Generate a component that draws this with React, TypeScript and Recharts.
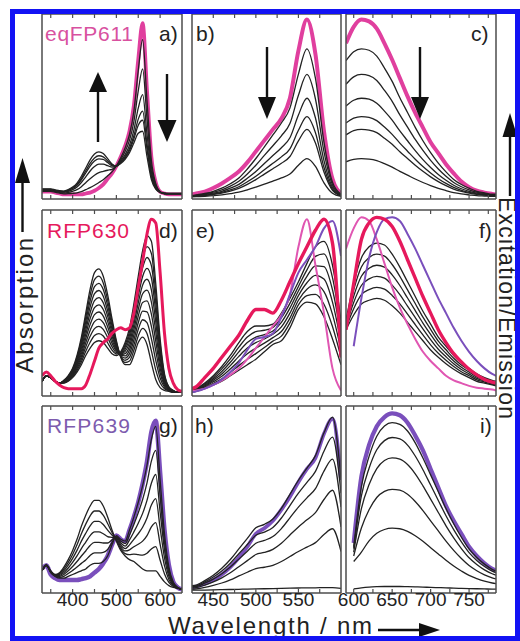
import React from 'react';
import { LineChart, Line, XAxis, YAxis } from 'recharts';

const FONT = '"Liberation Sans", Arial, Helvetica, sans-serif';
const PINK = '#e03f9e';
const PINK_THIN = '#e056b2';
const CRIMSON = '#e6195c';
const VIOLET = '#7a4fbc';
const INK = '#222222';
const FRAME = '#4d4d4d';

// wavelength grids (nm)
const absWl = [330, 340, 350, 360, 370, 380, 390, 400, 410, 420, 430, 440, 450, 460, 470, 480, 490, 500, 510, 520, 530, 540, 550, 560, 570, 580, 590, 600, 610, 620, 630, 640, 650];
const excWl = [425, 430, 440, 450, 460, 470, 480, 490, 500, 510, 520, 530, 540, 550, 560, 570, 580, 590, 600];
const emWl = [590, 600, 610, 620, 630, 640, 650, 660, 670, 680, 690, 700, 710, 720, 730, 740, 750, 760, 770, 780, 785];

const absTicks = [350, 400, 450, 500, 550, 600];
const excTicks = [450, 475, 500, 525, 550, 575];
const emTicks = [600, 625, 650, 675, 700, 725, 750, 775];
const absLabels = [400, 500, 600];
const excLabels = [450, 500, 550];
const emLabels = [600, 650, 700, 750];

// a) eqFP611 absorption
const eqAbs = [3, 3, 3, 2.5, 2, 1.5, 1.5, 1.5, 1.5, 1.5, 2, 2.5, 3.5, 5, 7, 10, 13, 17, 22, 28, 36, 50, 75, 95, 58, 22, 8, 3, 2, 1.5, 1.5, 1.5, 1.5];
const eqAbsSteps = [
  [3.2, 3.2, 3.2, 2.7, 2.2, 1.8, 1.9, 2.1, 2.4, 3.0, 4.1, 5.2, 6.5, 8.0, 9.5, 11.7, 13.8, 17, 21.5, 26.9, 34.2, 46.9, 69, 86, 52.6, 20.1, 7.5, 3, 2, 1.8, 1.8, 1.8, 1.8],
  [3.6, 3.6, 3.6, 3.1, 2.6, 2.3, 2.6, 3.2, 4.1, 5.7, 7.9, 10.1, 12.0, 13.4, 14.1, 14.7, 15.2, 17, 20.5, 24.9, 31.0, 41.3, 58, 70, 42.8, 16.7, 6.5, 2.8, 2, 1.8, 1.8, 1.8, 1.8],
  [4.0, 4.0, 4.0, 3.5, 3.0, 2.7, 3.2, 4.1, 5.6, 8.0, 11.1, 14.3, 16.7, 18.0, 18.0, 17.2, 16.4, 17, 19.6, 23.2, 28.3, 36.6, 48.6, 56, 34.5, 13.8, 5.6, 2.8, 2, 1.9, 1.9, 1.9, 1.9],
  [4.2, 4.2, 4.2, 3.7, 3.2, 3.0, 3.6, 4.7, 6.5, 9.5, 13.2, 17.0, 19.7, 20.9, 20.6, 18.9, 17.1, 17, 19.1, 22.1, 26.6, 33.5, 42.6, 47, 29.1, 12.0, 5.1, 2.7, 2, 1.9, 1.9, 1.9, 1.9],
  [4.3, 4.3, 4.3, 3.8, 3.3, 3.1, 3.8, 5.1, 7.0, 10.3, 14.4, 18.4, 21.4, 22.6, 22.0, 19.8, 17.6, 17, 18.8, 21.5, 25.6, 31.8, 39.3, 42, 26.2, 11.0, 4.8, 2.7, 2, 2, 2, 2, 2],
  [4.5, 4.5, 4.5, 4.0, 3.5, 3.3, 4.1, 5.5, 7.7, 11.4, 15.9, 20.4, 23.6, 24.7, 23.8, 21.0, 18.1, 17, 18.4, 20.7, 24.3, 29.6, 34.9, 36, 22.2, 9.6, 4.4, 2.6, 2, 2, 2, 2, 2],
];

// b) eqFP611 excitation
const eqExc = [1.5, 2, 3, 5, 7.5, 10.5, 14, 19, 25, 31, 37, 43, 54, 80, 97, 78, 36, 10, 2];
const eqExcSteps = [
  [0.8, 1.2, 2, 3.2, 4.9, 7.3, 10.5, 15.4, 21.1, 27.5, 34, 40.5, 48.6, 67.2, 81, 64.8, 30, 8.1, 1.6],
  [0.7, 1, 1.7, 2.7, 4, 6, 8.7, 12.7, 17.4, 22.8, 28.1, 33.5, 40.2, 55.6, 67, 53.6, 24.8, 6.7, 1.3],
  [0.5, 0.8, 1.4, 2.2, 3.2, 4.9, 7, 10.3, 14, 18.4, 22.7, 27, 32.4, 44.8, 54, 43.2, 20, 5.4, 1.1],
  [0.4, 0.7, 1.1, 1.8, 2.6, 4, 5.7, 8.4, 11.4, 15, 18.5, 22, 26.4, 36.5, 44, 35.2, 16.3, 4.4, 0.9],
  [0.4, 0.6, 0.9, 1.5, 2.2, 3.3, 4.8, 7, 9.6, 12.6, 15.5, 18.5, 22.2, 30.7, 37, 29.6, 13.7, 3.7, 0.7],
  [0.2, 0.3, 0.5, 0.8, 1.3, 1.9, 2.7, 4, 5.5, 7.1, 8.8, 10.5, 12.6, 17.4, 21, 16.8, 7.8, 2.1, 0.4],
];

// c) eqFP611 emission
const eqEm = [84, 93, 97, 96, 92, 84, 75, 65, 55, 46, 38, 30, 24, 18, 13, 8.5, 5.5, 3.5, 2.5, 1.8, 1.5];
const eqEmSteps = [
  [74.5, 79.4, 81, 80.2, 77, 70.5, 63.2, 54.3, 46.2, 38.1, 30.8, 24.3, 18.6, 13.8, 9.7, 6.9, 4.9, 3.2, 2.4, 1.6, 1.6],
  [61.6, 65.7, 67, 66.3, 63.7, 58.3, 52.3, 44.9, 38.2, 31.5, 25.5, 20.1, 15.4, 11.4, 8, 5.7, 4, 2.7, 2, 1.3, 1.3],
  [49.7, 52.9, 54, 53.5, 51.3, 47, 42.1, 36.2, 30.8, 25.4, 20.5, 16.2, 12.4, 9.2, 6.5, 4.6, 3.2, 2.2, 1.6, 1.1, 1.1],
  [40.5, 43.1, 44, 43.6, 41.8, 38.3, 34.3, 29.5, 25.1, 20.7, 16.7, 13.2, 10.1, 7.5, 5.3, 3.7, 2.6, 1.8, 1.3, 0.9, 0.9],
  [34, 36.3, 37, 36.6, 35.2, 32.2, 28.9, 24.8, 21.1, 17.4, 14.1, 11.1, 8.5, 6.3, 4.4, 3.1, 2.2, 1.5, 1.1, 0.7, 0.7],
  [19.3, 20.6, 21, 20.8, 20, 18.3, 16.4, 14.1, 12, 9.9, 8, 6.3, 4.8, 3.6, 2.5, 1.8, 1.3, 0.8, 0.6, 0.4, 0.4],
];

// d) RFP630 absorption
const rfp630Abs = [10, 12, 10, 7, 5, 3.5, 3, 3, 3, 3, 5, 11, 18, 25, 28, 30, 33, 35, 36, 35, 36, 44, 58, 72, 87, 95, 93, 66, 33, 14, 6, 2.5, 1.5];
const rfp630AbsSteps = [
  [7, 10, 9, 7, 6, 7.5, 10, 14, 21, 31, 44, 57, 66, 68, 64, 54, 41, 29, 20, 16, 16, 21, 28, 31, 27, 17, 8, 3.5, 2, 1.5, 1, 1, 1],
  [7, 10, 9, 7, 6, 7.4, 9.7, 13.5, 20.1, 29.5, 41.7, 53.8, 62.2, 64.1, 60.4, 51.1, 39.1, 28.2, 20.3, 17.2, 18, 23.8, 31.6, 35.7, 32.9, 23.6, 13.2, 6.2, 2.9, 1.8, 1.1, 1, 1],
  [7, 10, 9, 7, 6, 7.2, 9.4, 13, 19.2, 28, 39.4, 50.6, 58.4, 60.2, 56.8, 48.2, 37.2, 27.4, 20.6, 18.4, 20, 26.6, 35.2, 40.4, 38.8, 30.2, 18.4, 8.8, 3.8, 2, 1.2, 1, 1],
  [7, 10, 9, 7, 6, 7.1, 9.1, 12.5, 18.3, 26.5, 37.1, 47.4, 54.6, 56.3, 53.2, 45.3, 35.3, 26.6, 20.9, 19.6, 22, 29.4, 38.8, 45.1, 44.7, 36.8, 23.6, 11.5, 4.7, 2.3, 1.3, 1, 1],
  [7, 10, 9, 7, 6, 6.9, 8.8, 12, 17.4, 25, 34.8, 44.2, 50.8, 52.4, 49.6, 42.4, 33.4, 25.8, 21.2, 20.8, 24, 32.2, 42.4, 49.8, 50.6, 43.4, 28.8, 14.1, 5.6, 2.5, 1.4, 1, 1],
  [7, 10, 9, 7, 6, 6.8, 8.5, 11.5, 16.5, 23.5, 32.5, 41, 47, 48.5, 46, 39.5, 31.5, 25, 21.5, 22, 26, 35, 46, 54.5, 56.5, 50, 34, 16.8, 6.5, 2.8, 1.5, 1, 1],
  [7, 10, 9, 7, 6, 6.6, 8.2, 11, 15.6, 22, 30.2, 37.8, 43.2, 44.6, 42.4, 36.6, 29.6, 24.2, 21.8, 23.2, 28, 37.8, 49.6, 59.2, 62.4, 56.6, 39.2, 19.4, 7.4, 3, 1.6, 1, 1],
  [7, 10, 9, 7, 6, 6.5, 7.9, 10.5, 14.7, 20.5, 27.9, 34.6, 39.4, 40.7, 38.8, 33.7, 27.7, 23.4, 22.1, 24.4, 30, 40.6, 53.2, 63.9, 68.3, 63.2, 44.4, 22.1, 8.3, 3.3, 1.7, 1, 1],
  [7, 10, 9, 7, 6, 6.3, 7.6, 10, 13.8, 19, 25.6, 31.4, 35.6, 36.8, 35.2, 30.8, 25.8, 22.6, 22.4, 25.6, 32, 43.4, 56.8, 68.6, 74.2, 69.8, 49.6, 24.7, 9.2, 3.5, 1.8, 1, 1],
  [7, 10, 9, 7, 6, 6.2, 7.3, 9.5, 12.9, 17.5, 23.3, 28.2, 31.8, 32.9, 31.6, 27.9, 23.9, 21.8, 22.7, 26.8, 34, 46.2, 60.4, 73.3, 80.1, 76.4, 54.8, 27.4, 10.1, 3.8, 1.9, 1, 1],
  [7, 10, 9, 7, 6, 6, 7, 9, 12, 16, 21, 25, 28, 29, 28, 25, 22, 21, 23, 28, 36, 49, 64, 78, 86, 83, 60, 30, 11, 4, 2, 1, 1],
];

// e) RFP630 excitation (with eqFP611 and RFP639 references)
const rfp630Exc = [3, 4, 9, 14, 20, 26, 32, 40, 46, 46, 44, 51, 61, 71, 80, 89, 95, 82, 20];
const eqExcRef = [1.5, 2, 3, 5, 7.5, 10.5, 14, 19, 25, 31, 37, 43, 54, 80, 95, 70, 44, 14, 2];
const rfp639ExcRef = [1, 1.5, 3, 5, 8, 12, 17, 24, 30, 31, 33, 42, 54, 66, 73, 80, 90, 94, 75];
const rfp630ExcSteps = [
  [1, 1.5, 3, 5, 7, 10, 13, 16, 19, 23, 27, 29, 36, 46, 50, 49, 42, 30, 16],
  [1.2, 1.8, 3.5, 5.8, 8.3, 11.8, 15.5, 19, 22, 25.3, 28.8, 31.5, 38.7, 48.5, 53.5, 54.2, 48.8, 36.7, 20],
  [1.3, 2, 4, 6.7, 9.7, 13.7, 18, 22, 25, 27.7, 30.7, 34, 41.3, 51, 57, 59.3, 55.7, 43.3, 24],
  [1.5, 2.3, 4.5, 7.5, 11, 15.5, 20.5, 25, 28, 30, 32.5, 36.5, 44, 53.5, 60.5, 64.5, 62.5, 50, 28],
  [1.7, 2.5, 5, 8.3, 12.3, 17.3, 23, 28, 31, 32.3, 34.3, 39, 46.7, 56, 64, 69.7, 69.3, 56.7, 32],
  [1.8, 2.8, 5.5, 9.2, 13.7, 19.2, 25.5, 31, 34, 34.7, 36.2, 41.5, 49.3, 58.5, 67.5, 74.8, 76.2, 63.3, 36],
  [2, 3, 6, 10, 15, 21, 28, 34, 37, 37, 38, 44, 52, 61, 71, 80, 83, 70, 40],
];

// f) RFP630 emission (with eqFP611 and RFP639 references)
const rfp630Em = [35, 60, 84, 93, 96, 95, 91, 83, 73, 63, 53, 44, 35, 28, 22, 17.5, 13.5, 10.5, 8, 6.5, 6];
const eqEmRef = [79, 90, 96, 94, 84, 71, 58, 47, 38, 30, 23, 18, 14, 10, 7.5, 6, 4.5, 3.5, 3, 2.5, 2];
const rfp639EmRef = [null, 26, 52, 74, 88, 95, 96, 94, 87, 79, 70, 61, 52, 44, 36, 29, 23, 18, 14, 11, 10];
const rfp630EmSteps = [
  [35, 43, 49, 51, 52, 51, 48, 44, 39, 34, 29, 24, 20, 16.5, 13.5, 11, 9, 7, 6, 5, 4.5],
  [36, 46.4, 54, 56.8, 58, 57, 53.6, 49, 43.4, 37.8, 32.2, 26.8, 22.2, 18.4, 15, 12.2, 10, 7.8, 6.6, 5.5, 5],
  [37, 49.8, 59, 62.6, 64, 63, 59.2, 54, 47.8, 41.6, 35.4, 29.6, 24.4, 20.3, 16.5, 13.4, 11, 8.6, 7.2, 6, 5.5],
  [38, 53.2, 64, 68.4, 70, 69, 64.8, 59, 52.2, 45.4, 38.6, 32.4, 26.6, 22.2, 18, 14.6, 12, 9.4, 7.8, 6.5, 6],
  [39, 56.6, 69, 74.2, 76, 75, 70.4, 64, 56.6, 49.2, 41.8, 35.2, 28.8, 24.1, 19.5, 15.8, 13, 10.2, 8.4, 7, 6.5],
  [40, 60, 74, 80, 82, 81, 76, 69, 61, 53, 45, 38, 31, 26, 21, 17, 14, 11, 9, 7.5, 7],
];

// g) RFP639 absorption
const rfp639Abs = [12, 14, 9, 7, 6, 6, 6, 6, 6, 6.5, 7, 8, 10, 12, 15, 19, 25, 30, 28, 27, 33, 40, 48, 58, 70, 86, 92, 64, 33, 14, 5, 2, 1];
const rfp639AbsSteps = [
  [11, 14, 11, 9, 10, 13, 17, 22, 28, 35, 41, 46, 49, 49, 46, 40, 33, 27, 22, 19, 17, 16, 14, 12, 11, 11, 11, 8, 5, 3, 2, 1.5, 1],
  [11, 14, 10.8, 8.8, 9.5, 12, 15.5, 19.8, 25, 31, 36.2, 40.7, 43.3, 43.3, 41, 36.5, 31.7, 27.5, 23, 20.3, 19.7, 20, 19.7, 19.5, 20.5, 22.8, 24, 16.7, 9.3, 4.7, 2.5, 1.6, 1],
  [11, 14, 10.7, 8.7, 9, 11, 14, 17.7, 22, 27, 31.3, 35.3, 37.7, 37.7, 36, 33, 30.3, 28, 24, 21.7, 22.3, 24, 25.3, 27, 30, 34.7, 37, 25.3, 13.7, 6.3, 3, 1.7, 1],
  [11, 14, 10.5, 8.5, 8.5, 10, 12.5, 15.5, 19, 23, 26.5, 30, 32, 32, 31, 29.5, 29, 28.5, 25, 23, 25, 28, 31, 34.5, 39.5, 46.5, 50, 34, 18, 8, 3.5, 1.8, 1],
  [11, 14, 10.3, 8.3, 8, 9, 11, 13.3, 16, 19, 21.7, 24.7, 26.3, 26.3, 26, 26, 27.7, 29, 26, 24.3, 27.7, 32, 36.7, 42, 49, 58.3, 63, 42.7, 22.3, 9.7, 4, 1.8, 1],
  [11, 14, 10.2, 8.2, 7.5, 8, 9.5, 11.2, 13, 15, 16.8, 19.3, 20.7, 20.7, 21, 22.5, 26.3, 29.5, 27, 25.7, 30.3, 36, 42.3, 49.5, 58.5, 70.2, 76, 51.3, 26.7, 11.3, 4.5, 1.9, 1],
  [11, 14, 10, 8, 7, 7, 8, 9, 10, 11, 12, 14, 15, 15, 16, 19, 25, 30, 28, 27, 33, 40, 48, 57, 68, 82, 89, 60, 31, 13, 5, 2, 1],
];

// h) RFP639 excitation
const rfp639Exc = [2, 2.5, 4, 6, 9, 13, 18, 24, 31, 34, 38, 44, 51, 59, 66, 72, 85, 93, 60];
const rfp639ExcSteps = [
  [0.5, 0.5, 0.6, 0.7, 0.8, 0.9, 1, 1.1, 1.2, 1.3, 1.4, 1.5, 1.6, 1.7, 1.8, 1.8, 1.9, 1.9, 1.5],
  [1, 1.2, 2, 3.1, 4.4, 6.1, 8.2, 10.2, 12.2, 12.9, 13.9, 16, 18.7, 21.4, 23.8, 26.2, 30.6, 33.7, 21.4],
  [1.7, 1.9, 3.3, 5, 7.2, 9.9, 13.2, 16.5, 19.8, 20.9, 22.6, 25.9, 30.3, 34.7, 38.5, 42.4, 49.5, 54.5, 34.7],
  [2.2, 2.5, 4.3, 6.5, 9.4, 13, 17.3, 21.6, 25.9, 27.4, 29.5, 33.8, 39.6, 45.4, 50.4, 55.4, 64.8, 71.3, 45.4],
  [2.5, 2.9, 5, 7.6, 10.9, 15.1, 20.2, 25.2, 30.2, 31.9, 34.4, 39.5, 46.2, 52.9, 58.8, 64.7, 75.6, 83.2, 52.9],
  [2.9, 3.3, 5.7, 8.6, 12.4, 17.1, 22.8, 28.5, 34.2, 36.1, 39, 44.7, 52.3, 59.9, 66.5, 73.2, 85.5, 94, 60],
];

// i) RFP639 emission
const rfp639Em = [null, 26, 62, 79, 89, 94, 96, 95, 91, 84, 76, 66, 56, 46, 38, 31, 24, 19, 15, 12, 11];
const rfp639EmSteps = [
  [null, 1.2, 1.8, 2.2, 2.4, 2.5, 2.5, 2.5, 2.4, 2.3, 2.2, 2, 1.9, 1.8, 1.6, 1.5, 1.4, 1.3, 1.2, 1.1, 1.1],
  [null, 16, 21.1, 27.2, 31.3, 33.3, 34, 33.7, 32.3, 29.9, 26.9, 23.5, 20.1, 16.7, 13.6, 10.9, 8.5, 6.8, 5.4, 4.4, 4.1],
  [null, 19, 34.1, 44, 50.6, 53.9, 55, 54.5, 52.3, 48.4, 43.5, 38, 32.5, 27, 22, 17.6, 13.8, 11, 8.8, 7.2, 6.6],
  [null, 21, 44.6, 57.6, 66.2, 70.6, 72, 71.3, 68.4, 63.4, 56.9, 49.7, 42.5, 35.3, 28.8, 23, 18, 14.4, 11.5, 9.4, 8.6],
  [null, 23, 51.5, 66.4, 76.4, 81.3, 83, 82.2, 78.9, 73, 65.6, 57.3, 49, 40.7, 33.2, 26.6, 20.8, 16.6, 13.3, 10.8, 10],
  [null, 24, 56.4, 72.8, 83.7, 89.2, 91, 90.1, 86.5, 80.1, 71.9, 62.8, 53.7, 44.6, 36.4, 29.1, 22.8, 18.2, 14.6, 11.8, 10.9],
];

type Trace = { values: (number | null)[]; color: string; width: number };

const blacks = (sets: (number | null)[][]): Trace[] =>
  sets.map((values) => ({ values, color: INK, width: 1.3 }));

interface PanelProps {
  left: number;
  top: number;
  width: number;
  height: number;
  wl: number[];
  domain: [number, number];
  ticks: number[];
  labels?: number[];
  traces: Trace[];
}

// axes need a non-zero size to be drawn; margins make up for the 1px they take
const PAD = 3;
const AX = 1;

const Panel: React.FC<PanelProps> = ({ left, top, width, height, wl, domain, ticks, labels, traces }) => {
  const rows = wl.map((w, i) => {
    const row: Record<string, number | null> = { wl: w };
    traces.forEach((t, k) => {
      row['s' + k] = t.values[i];
    });
    return row;
  });
  const extra = labels ? 26 : 0;
  const side = labels ? 22 : PAD; // room for the outer tick labels
  const axisLine = { stroke: FRAME, strokeWidth: 1.5 };
  const tickLine = { stroke: FRAME, strokeWidth: 1.2 };
  const blank = () => '';

  return (
    <div style={{ position: 'absolute', left: left - side, top: top - PAD }}>
      <LineChart
        width={width + 2 * side}
        height={height + 2 * PAD + extra}
        data={rows}
        margin={{
          top: PAD - AX,
          right: side - AX,
          bottom: PAD - AX - (labels ? AX : 0) + extra,
          left: side - AX,
        }}
      >
        <XAxis xAxisId="bot" dataKey="wl" type="number" domain={domain} ticks={ticks} allowDataOverflow
          orientation="bottom" mirror height={AX} tickSize={4} axisLine={axisLine} tickLine={tickLine} tickFormatter={blank} />
        <XAxis xAxisId="top" dataKey="wl" type="number" domain={domain} ticks={ticks} allowDataOverflow
          orientation="top" mirror height={AX} tickSize={4} axisLine={axisLine} tickLine={tickLine} tickFormatter={blank} />
        {labels && (
          <XAxis xAxisId="lab" dataKey="wl" type="number" domain={domain} ticks={labels} interval={0} allowDataOverflow
            orientation="bottom" height={AX} axisLine={false} tickLine={false} tickSize={0} tickMargin={0}
            tick={{ fontSize: 19, fill: INK, fontFamily: FONT }} />
        )}
        <YAxis yAxisId="l" type="number" domain={[-1, 100]} allowDataOverflow width={AX}
          axisLine={axisLine} tickLine={false} tick={false} />
        <YAxis yAxisId="r" orientation="right" type="number" domain={[-1, 100]} allowDataOverflow width={AX}
          axisLine={axisLine} tickLine={false} tick={false} />
        {traces.map((t, k) => (
          <Line
            key={k}
            xAxisId="bot"
            yAxisId="l"
            dataKey={'s' + k}
            type="monotone"
            stroke={t.color}
            strokeWidth={t.width}
            strokeLinejoin="round"
            dot={false}
            activeDot={false}
            isAnimationActive={false}
          />
        ))}
      </LineChart>
    </div>
  );
};

const Arrow = ({ x1, y1, x2, y2, head = 9, len = 21 }: { x1: number; y1: number; x2: number; y2: number; head?: number; len?: number }) => {
  const dx = x2 - x1;
  const dy = y2 - y1;
  const d = Math.hypot(dx, dy);
  const ux = dx / d;
  const uy = dy / d;
  const bx = x2 - ux * len;
  const by = y2 - uy * len;
  const pts = `${x2},${y2} ${bx - uy * head},${by + ux * head} ${bx + uy * head},${by - ux * head}`;
  return (
    <g>
      <line x1={x1} y1={y1} x2={bx + ux * 2} y2={by + uy * 2} stroke="#111" strokeWidth={2.4} />
      <polygon points={pts} fill="#111" />
    </g>
  );
};

const COL = [
  { left: 42, width: 140 },
  { left: 192, width: 149 },
  { left: 346, width: 150 },
];
const ROW = [
  { top: 15, height: 183 },
  { top: 211, height: 184 },
  { top: 407, height: 185 },
];

export default function App() {
  const absDomain: [number, number] = [330, 650];
  const excDomain: [number, number] = [425, 600];
  const emDomain: [number, number] = [590, 785];

  const panels: PanelProps[] = [
    { ...COL[0], ...ROW[0], wl: absWl, domain: absDomain, ticks: absTicks,
      traces: [{ values: eqAbs, color: PINK, width: 3.8 }, ...blacks(eqAbsSteps)] },
    { ...COL[1], ...ROW[0], wl: excWl, domain: excDomain, ticks: excTicks,
      traces: [{ values: eqExc, color: PINK, width: 4 }, ...blacks(eqExcSteps)] },
    { ...COL[2], ...ROW[0], wl: emWl, domain: emDomain, ticks: emTicks,
      traces: [{ values: eqEm, color: PINK, width: 4 }, ...blacks(eqEmSteps)] },
    { ...COL[0], ...ROW[1], wl: absWl, domain: absDomain, ticks: absTicks,
      traces: [...blacks(rfp630AbsSteps), { values: rfp630Abs, color: CRIMSON, width: 3 }] },
    { ...COL[1], ...ROW[1], wl: excWl, domain: excDomain, ticks: excTicks,
      traces: [...blacks(rfp630ExcSteps), { values: eqExcRef, color: PINK_THIN, width: 2 },
        { values: rfp639ExcRef, color: VIOLET, width: 2 }, { values: rfp630Exc, color: CRIMSON, width: 3.4 }] },
    { ...COL[2], ...ROW[1], wl: emWl, domain: emDomain, ticks: emTicks,
      traces: [...blacks(rfp630EmSteps), { values: eqEmRef, color: PINK_THIN, width: 2 },
        { values: rfp639EmRef, color: VIOLET, width: 2 }, { values: rfp630Em, color: CRIMSON, width: 3.4 }] },
    { ...COL[0], ...ROW[2], wl: absWl, domain: absDomain, ticks: absTicks, labels: absLabels,
      traces: [{ values: rfp639Abs, color: VIOLET, width: 4.5 }, ...blacks(rfp639AbsSteps)] },
    { ...COL[1], ...ROW[2], wl: excWl, domain: excDomain, ticks: excTicks, labels: excLabels,
      traces: [{ values: rfp639Exc, color: VIOLET, width: 3.8 }, ...blacks(rfp639ExcSteps)] },
    { ...COL[2], ...ROW[2], wl: emWl, domain: emDomain, ticks: emTicks, labels: emLabels,
      traces: [{ values: rfp639Em, color: VIOLET, width: 4.2 }, ...blacks(rfp639EmSteps)] },
  ];

  return (
    <div style={{ position: 'absolute', left: 0, top: 0, width: 520, height: 641, background: '#fff', overflow: 'hidden' }}>
      {panels.map((p, i) => (
        <Panel key={i} {...p} />
      ))}

      <svg width={520} height={641} style={{ position: 'absolute', left: 0, top: 0, pointerEvents: 'none' }}>
        <g fontFamily={FONT}>
          <text x={45} y={41} fontSize={21} fill="#d8519f" textLength={88} lengthAdjust="spacing">eqFP611</text>
          <text x={47} y={238} fontSize={21} fill={CRIMSON} textLength={82} lengthAdjust="spacing">RFP630</text>
          <text x={47} y={433} fontSize={21} fill="#7d5bae" textLength={83} lengthAdjust="spacing">RFP639</text>

          <text x={159} y={41} fontSize={21} fill={INK}>a)</text>
          <text x={196} y={41} fontSize={21} fill={INK}>b)</text>
          <text x={471} y={41} fontSize={21} fill={INK}>c)</text>
          <text x={159} y={238} fontSize={21} fill={INK}>d)</text>
          <text x={196} y={238} fontSize={21} fill={INK}>e)</text>
          <text x={479} y={238} fontSize={21} fill={INK}>f)</text>
          <text x={159} y={433} fontSize={21} fill={INK}>g)</text>
          <text x={195} y={433} fontSize={21} fill={INK}>h)</text>
          <text x={480} y={433} fontSize={21} fill={INK}>i)</text>

          <text transform="translate(33,373) rotate(-90)" fontSize={24} fill={INK} textLength={135} lengthAdjust="spacing">Absorption</text>
          <text transform="translate(499,197) rotate(90)" fontSize={23} fill={INK} textLength={222} lengthAdjust="spacing">Excitation/Emission</text>
          <text x={168} y={634} fontSize={24} fill={INK} textLength={204} lengthAdjust="spacing">Wavelength / nm</text>
        </g>

        <Arrow x1={98} y1={142} x2={98} y2={72} head={9} len={20} />
        <Arrow x1={167} y1={74} x2={167} y2={142} head={9.5} len={22} />
        <Arrow x1={267} y1={47} x2={267} y2={119} head={9} len={22} />
        <Arrow x1={420} y1={47} x2={420} y2={119} head={9} len={22} />

        <Arrow x1={22.5} y1={232} x2={22.5} y2={158} head={7.5} len={25} />
        <Arrow x1={510} y1={196} x2={510} y2={113} head={7.5} len={24} />
        <Arrow x1={378} y1={630} x2={440} y2={630} head={7} len={21} />
      </svg>

      <div style={{ position: 'absolute', left: 10, top: 9, width: 510, height: 632, border: '5px solid #1212f4', boxSizing: 'border-box', pointerEvents: 'none' }} />
    </div>
  );
}
